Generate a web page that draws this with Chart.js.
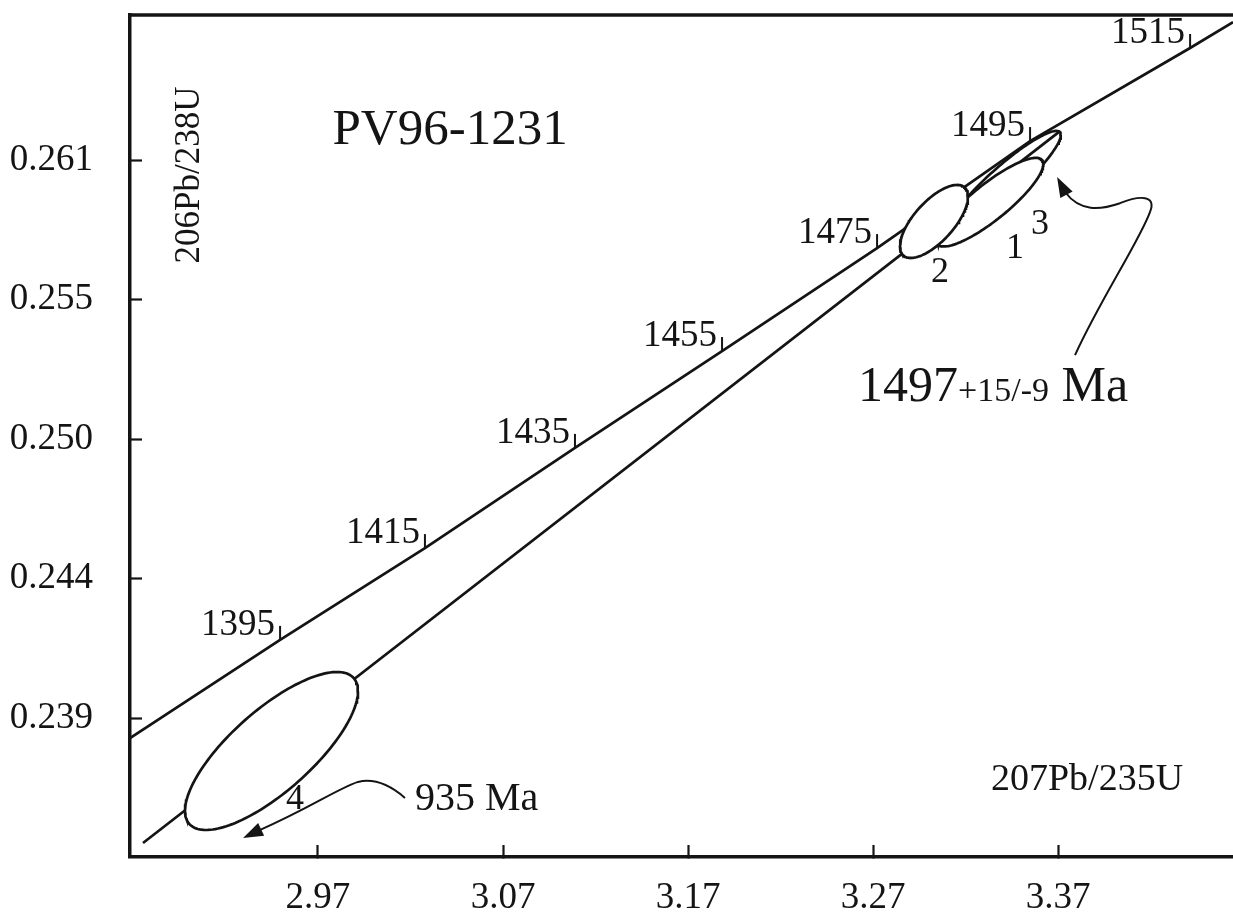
<!DOCTYPE html>
<html>
<head>
<meta charset="utf-8">
<script src="https://cdn.jsdelivr.net/npm/chart.js@4/dist/chart.umd.min.js"></script>
<style>
  html, body { margin: 0; padding: 0; background: #ffffff; }
  canvas { display: block; }
</style>
</head>
<body>
<canvas id="concordia" width="1233" height="924"></canvas>
<script>
// Axis ticks (207Pb/235U on x, 206Pb/238U on y)
const xTickValues = [2.97, 3.07, 3.17, 3.27, 3.37];
const xTickLabels = ['2.97', '3.07', '3.17', '3.27', '3.37'];
const yTickValues = [0.239, 0.2445, 0.25, 0.2555, 0.261];
const yTickLabels = ['0.239', '0.244', '0.250', '0.255', '0.261'];

// Concordia curve, sampled at the labelled ages (Ma)
const concordiaAges = [1395, 1415, 1435, 1455, 1475, 1495, 1515];
const concordiaX = [2.9495, 3.0278, 3.1089, 3.1884, 3.2722, 3.3549, 3.4414];
const concordiaY = [0.24208, 0.24570, 0.24965, 0.25347, 0.25753, 0.26175, 0.26542];
// where the curve leaves the frame on either side
const concordiaEndX = [2.8684, 3.4646];
const concordiaEndY = [0.23821, 0.26644];

// Discordia: lower intercept side -> upper intercept (1497 Ma)
const discordiaX = [2.8754, 3.3711];
const discordiaY = [0.23407, 0.26214];

// Analyses: centre, half-extent of the error ellipse on each axis, error correlation
const spotNames = ['1', '2', '3', '4'];
const spotX = [3.33324, 3.30297, 3.34081, 2.94486];
const spotY = [0.25934, 0.25858, 0.26013, 0.23770];
const spotErrX = [0.02881, 0.01838, 0.03070, 0.04676];
const spotErrY = [0.001747, 0.001439, 0.002019, 0.003115];
const spotRho = [0.86, 0.68, 0.92, 0.757];

const INK = '#141414';
const SERIF = '"Liberation Serif", "Times New Roman", serif';

function ellipsePoints(i) {
  const pts = [];
  const n = 160;
  const s = Math.sqrt(1 - spotRho[i] * spotRho[i]);
  for (let k = 0; k <= n; k++) {
    const t = (k / n) * Math.PI * 2;
    pts.push({
      x: spotX[i] + spotErrX[i] * Math.cos(t),
      y: spotY[i] + spotErrY[i] * (spotRho[i] * Math.cos(t) + s * Math.sin(t))
    });
  }
  return pts;
}

const concordiaPts = [{ x: concordiaEndX[0], y: concordiaEndY[0] }]
  .concat(concordiaAges.map((a, i) => ({ x: concordiaX[i], y: concordiaY[i] })))
  .concat([{ x: concordiaEndX[1], y: concordiaEndY[1] }]);
const discordiaPts = discordiaX.map((x, i) => ({ x, y: discordiaY[i] }));

function ellipseDataset(i, filled, order) {
  return {
    label: 'spot ' + spotNames[i],
    data: ellipsePoints(i),
    showLine: true,
    borderColor: INK,
    borderWidth: 2.7,
    pointRadius: 0,
    tension: 0,
    fill: filled ? 'shape' : false,
    backgroundColor: '#ffffff',
    order
  };
}

const datasets = [
  ellipseDataset(3, true, 1),
  ellipseDataset(1, true, 2),
  ellipseDataset(0, true, 3),
  ellipseDataset(2, false, 4),
  { label: 'discordia', data: discordiaPts, showLine: true, borderColor: INK, borderWidth: 2.7, pointRadius: 0, tension: 0, order: 5 },
  { label: 'concordia', data: concordiaPts, showLine: true, borderColor: INK, borderWidth: 2.7, pointRadius: 0, tension: 0, order: 6 }
];

// Text and arrow annotations, placed in data coordinates
const notes = {
  title: { text: 'PV96-1231', x: 3.0414, y: 0.26218 },
  yName: { text: '206Pb/238U', x: 2.9008, y: 0.26041 },
  xName: { text: '207Pb/235U', x: 3.3857, y: 0.23656 },
  lowAge: { text: '935 Ma', x: 3.0224, y: 0.23577 },
  upAge: { main: '1497', err: '+15/-9', unit: ' Ma', x: 3.2619, y: 0.25213 },
  spotLabels: [
    { text: '1', x: 3.34676, y: 0.25753 },
    { text: '2', x: 3.30622, y: 0.25658 },
    { text: '3', x: 3.36027, y: 0.25844 },
    { text: '4', x: 2.95757, y: 0.23577 }
  ],
  arrowLow: {
    start: [3.0170, 0.23585],
    curves: [
      [3.0089, 0.23636, 3.0008, 0.23664, 2.9916, 0.23648],
      [2.9792, 0.23616, 2.9657, 0.23545, 2.9376, 0.23455]
    ],
    tip: [2.9295, 0.23427]
  },
  arrowUp: {
    start: [3.3792, 0.25331],
    curves: [
      [3.3927, 0.25548, 3.4143, 0.25785, 3.4197, 0.25895],
      [3.4235, 0.25962, 3.4143, 0.25962, 3.4035, 0.25930],
      [3.3927, 0.25903, 3.3819, 0.25895, 3.3738, 0.25974]
    ],
    tip: [3.3695, 0.26033]
  }
};

const annotate = {
  id: 'annotate',
  afterDatasetsDraw(chart) {
    const { ctx, chartArea } = chart;
    const sx = v => chart.scales.x.getPixelForValue(v);
    const sy = v => chart.scales.y.getPixelForValue(v);
    ctx.save();
    ctx.strokeStyle = INK;
    ctx.fillStyle = INK;
    ctx.lineCap = 'butt';

    // frame top edge
    ctx.lineWidth = 3.5;
    ctx.beginPath();
    ctx.moveTo(chartArea.left - 1.5, chartArea.top);
    ctx.lineTo(chartArea.right, chartArea.top);
    ctx.stroke();

    // age ticks on the concordia
    ctx.lineWidth = 2;
    ctx.font = '37px ' + SERIF;
    ctx.textAlign = 'right';
    ctx.textBaseline = 'alphabetic';
    concordiaAges.forEach((age, i) => {
      const px = sx(concordiaX[i]), py = sy(concordiaY[i]);
      ctx.beginPath();
      ctx.moveTo(px, py);
      ctx.lineTo(px, py - 14);
      ctx.stroke();
      ctx.fillText(String(age), px - 5, py - 5);
    });

    // spot numbers
    ctx.font = '36px ' + SERIF;
    ctx.textAlign = 'center';
    ctx.textBaseline = 'middle';
    notes.spotLabels.forEach(s => ctx.fillText(s.text, sx(s.x), sy(s.y)));

    // sample name
    ctx.font = '51px ' + SERIF;
    ctx.fillText(notes.title.text, sx(notes.title.x), sy(notes.title.y));

    // axis names
    ctx.font = '38px ' + SERIF;
    ctx.fillText(notes.xName.text, sx(notes.xName.x), sy(notes.xName.y));
    ctx.font = '35px ' + SERIF;
    ctx.save();
    ctx.translate(sx(notes.yName.x), sy(notes.yName.y));
    ctx.rotate(-Math.PI / 2);
    ctx.fillText(notes.yName.text, 0, 0);
    ctx.restore();

    // intercept ages
    ctx.textAlign = 'left';
    ctx.font = '40px ' + SERIF;
    ctx.fillText(notes.lowAge.text, sx(notes.lowAge.x), sy(notes.lowAge.y));

    let ux = sx(notes.upAge.x);
    const uy = sy(notes.upAge.y) + 16;
    ctx.textBaseline = 'alphabetic';
    ctx.font = '50px ' + SERIF;
    ctx.fillText(notes.upAge.main, ux, uy);
    ux += ctx.measureText(notes.upAge.main).width;
    ctx.font = '34px ' + SERIF;
    ctx.fillText(notes.upAge.err, ux, uy);
    ux += ctx.measureText(notes.upAge.err).width;
    ctx.font = '50px ' + SERIF;
    ctx.fillText(notes.upAge.unit, ux, uy);

    // curved arrows
    const drawArrow = a => {
      ctx.lineWidth = 2;
      ctx.beginPath();
      ctx.moveTo(sx(a.start[0]), sy(a.start[1]));
      let last = a.start;
      a.curves.forEach(c => {
        ctx.bezierCurveTo(sx(c[0]), sy(c[1]), sx(c[2]), sy(c[3]), sx(c[4]), sy(c[5]));
        last = [c[4], c[5]];
      });
      ctx.stroke();
      const tx = sx(a.tip[0]), ty = sy(a.tip[1]);
      const bx = sx(last[0]), by = sy(last[1]);
      const ang = Math.atan2(ty - by, tx - bx);
      const L = 20, W = 7;
      ctx.beginPath();
      ctx.moveTo(tx, ty);
      ctx.lineTo(tx - L * Math.cos(ang) + W * Math.sin(ang), ty - L * Math.sin(ang) - W * Math.cos(ang));
      ctx.lineTo(tx - L * Math.cos(ang) - W * Math.sin(ang), ty - L * Math.sin(ang) + W * Math.cos(ang));
      ctx.closePath();
      ctx.fill();
    };
    drawArrow(notes.arrowLow);
    drawArrow(notes.arrowUp);

    ctx.restore();
  }
};

const tickFont = { family: SERIF, size: 37 };

new Chart(document.getElementById('concordia').getContext('2d'), {
  type: 'scatter',
  data: { datasets },
  options: {
    responsive: false,
    animation: false,
    devicePixelRatio: 1,
    layout: { padding: { top: 15, right: 0, bottom: 0, left: 0 } },
    plugins: { legend: { display: false }, tooltip: { enabled: false } },
    scales: {
      x: {
        type: 'linear',
        min: 2.86838,
        max: 3.46459,
        afterBuildTicks: s => { s.ticks = xTickValues.map(v => ({ value: v })); },
        afterFit: s => { s.height = 67; s.paddingLeft = 0; s.paddingRight = 0; s.paddingTop = 0; s.paddingBottom = 0; },
        ticks: {
          callback: (v, i) => xTickLabels[i],
          font: tickFont, color: INK, padding: 31, maxRotation: 0, autoSkip: false
        },
        grid: { drawOnChartArea: false, drawTicks: true, tickLength: -12, tickWidth: 2.2, tickColor: INK },
        border: { display: true, width: 3.5, color: INK }
      },
      y: {
        type: 'linear',
        min: 0.23352,
        max: 0.26672,
        afterBuildTicks: s => { s.ticks = yTickValues.map(v => ({ value: v })); },
        afterFit: s => { s.width = 130; s.paddingLeft = 0; s.paddingRight = 0; s.paddingTop = 0; s.paddingBottom = 0; },
        ticks: {
          callback: (v, i) => yTickLabels[i],
          font: tickFont, color: INK, padding: 49, autoSkip: false
        },
        grid: { drawOnChartArea: false, drawTicks: true, tickLength: -12, tickWidth: 2.2, tickColor: INK },
        border: { display: true, width: 3.5, color: INK }
      }
    }
  },
  plugins: [annotate]
});
</script>
</body>
</html>
